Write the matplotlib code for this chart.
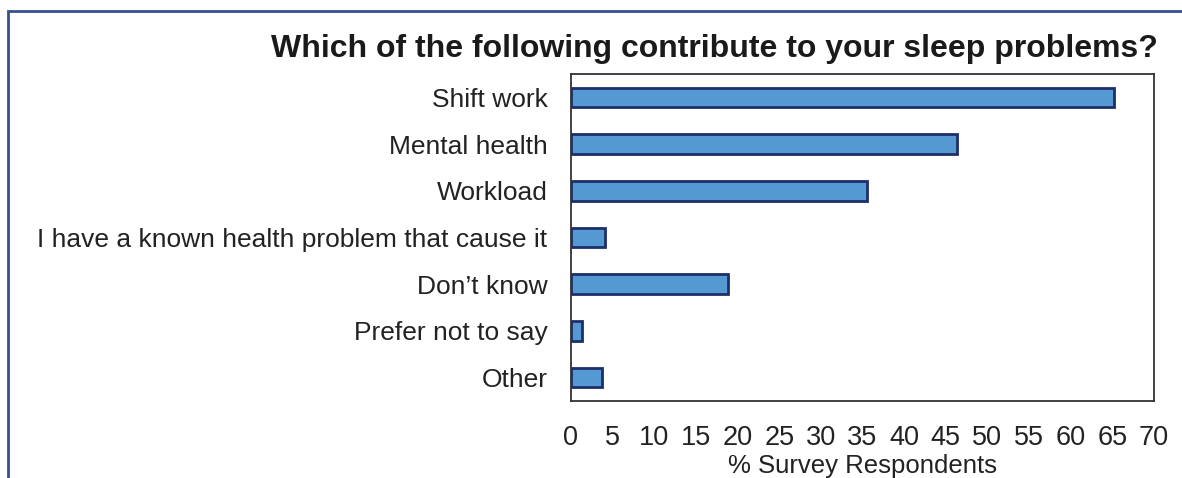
import matplotlib.pyplot as plt
from matplotlib.patches import Rectangle

plt.rcParams['font.family'] = ['Liberation Sans', 'DejaVu Sans']

categories = ["Shift work", "Mental health", "Workload",
              "I have a known health problem that cause it",
              "Don\u2019t know", "Prefer not to say", "Other"]
values = [65.2, 46.3, 35.5, 4.1, 18.9, 1.3, 3.7]
xticks = list(range(0, 75, 5))

fig = plt.figure(figsize=(11.82, 4.78), dpi=100)
fig.patch.set_facecolor('white')
# blue frame around the figure (top and left edges visible)
fig.patches.append(Rectangle((8 / 1182, -0.05), 1.1, 1 - 11 / 478 + 0.05,
                             transform=fig.transFigure, fill=False,
                             edgecolor='#34508f', linewidth=2))

ax = fig.add_axes([571 / 1182, 77 / 478, (1154 - 571) / 1182, (401 - 74) / 478])
ypos = list(range(len(categories)))
ax.barh(ypos, values, height=0.42, color='#5599d2', edgecolor='#1d2f6b', linewidth=2)
ax.set_yticks(ypos)
ax.set_yticklabels(categories, fontsize=19, color='#222222')
ax.set_ylim(len(categories) - 0.5, -0.5)
ax.set_xlim(0, 70)
ax.set_xticks(xticks)
ax.set_xticklabels([str(t) for t in xticks], fontsize=19.5, color='#222222')
ax.tick_params(axis='both', length=0)
ax.tick_params(axis='x', pad=17)
ax.tick_params(axis='y', pad=17)
for s in ax.spines.values():
    s.set_color('#333333')
    s.set_linewidth(1.3)
ax.set_xlabel("% Survey Respondents", fontsize=18.5, color='#222222', labelpad=2.5)

fig.text(1158 / 1182, 1 - 49 / 478, "Which of the following contribute to your sleep problems?",
         ha='right', va='center', fontsize=23, fontweight='bold', color='#1a1a1a')

fig.savefig('out.png', dpi=100)
